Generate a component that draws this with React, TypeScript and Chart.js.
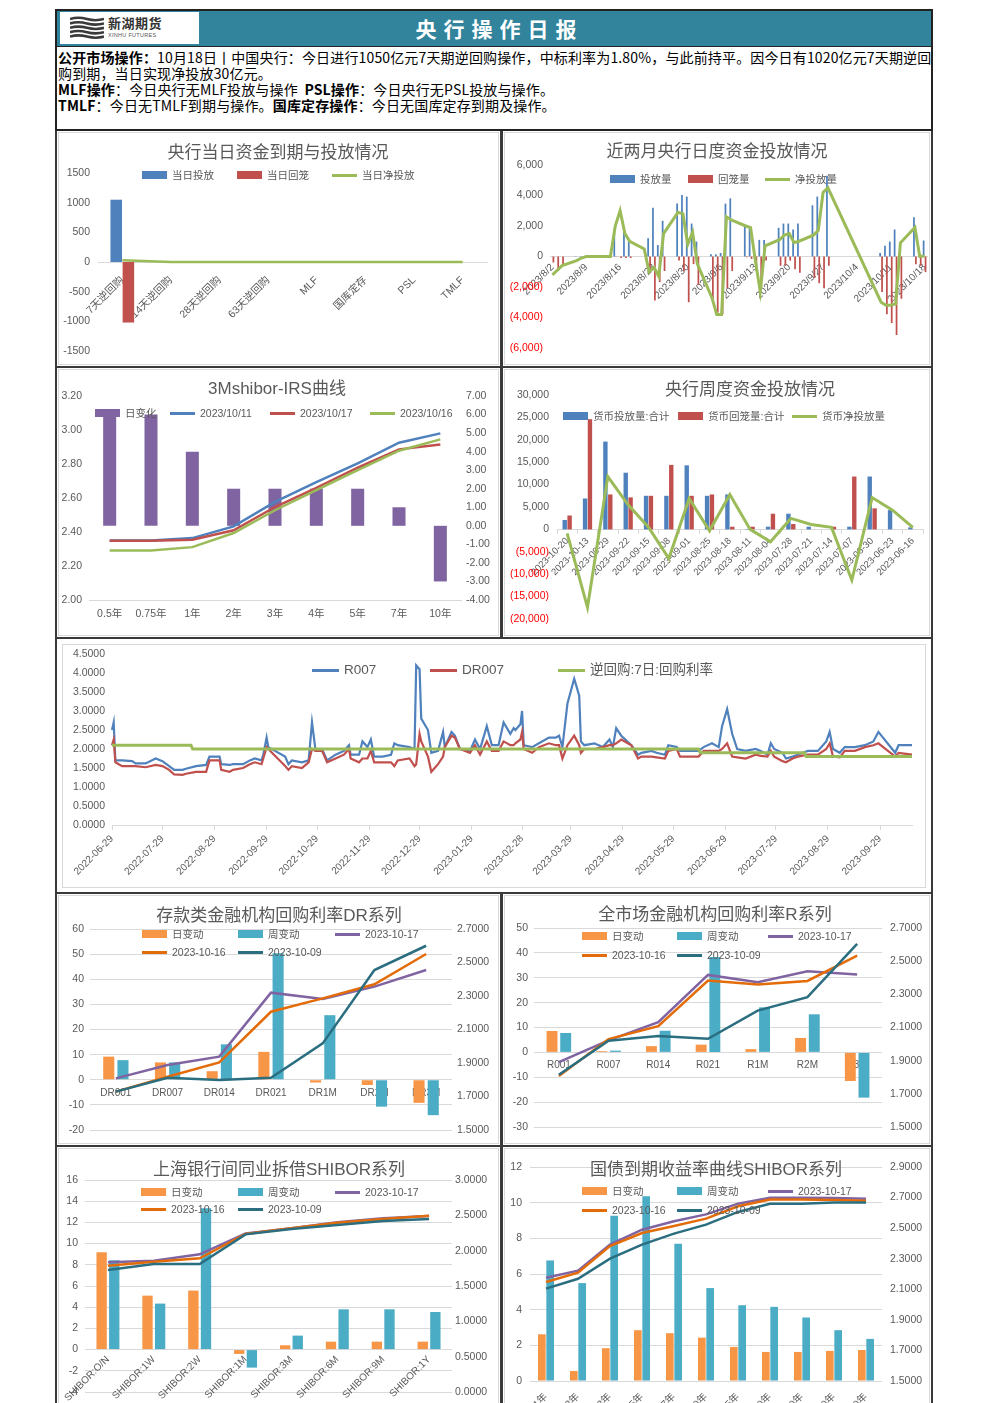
import React, { useEffect, useRef } from 'react';
import { Chart, registerables } from 'chart.js';

Chart.register(...registerables);

const LAT = "'Liberation Sans', 'Noto Sans CJK SC', sans-serif";
const CJK = "'Noto Sans CJK SC', 'Liberation Sans', sans-serif";
Chart.defaults.font.family = LAT;
Chart.defaults.color = '#595959';

const TXT = '#595959';
const GRID = '#d9d9d9';
const BLUE = '#4f81bd';
const RED = '#c0504d';
const GREEN = '#9bbb59';
const PURPLE = '#8064a2';
const ORANGE = '#f79646';
const TEAL = '#4bacc6';
const BROWN = '#e36c09';
const DTEAL = '#2b6e80';
const NEG = '#ff0000';

// ---------------- DATA ----------------
// 1. 央行当日资金到期与投放情况
const opsCategories = ['7天逆回购', '14天逆回购', '28天逆回购', '63天逆回购', 'MLF', '国库定存', 'PSL', 'TMLF'];
const opsInjection = [1050, 0, 0, 0, 0, 0, 0, 0];
const opsWithdrawal = [-1020, 0, 0, 0, 0, 0, 0, 0];
const opsNet = [30, 0, 0, 0, 0, 0, 0, 0];

// 2. 近两月央行日度资金投放情况 (business days)
const recentDates = [
  '2023-08-02', '2023-08-03', '2023-08-04', '2023-08-07', '2023-08-08', '2023-08-09', '2023-08-10', '2023-08-11',
  '2023-08-14', '2023-08-15', '2023-08-16', '2023-08-17', '2023-08-18', '2023-08-21', '2023-08-22', '2023-08-23',
  '2023-08-24', '2023-08-25', '2023-08-28', '2023-08-29', '2023-08-30', '2023-08-31', '2023-09-01', '2023-09-04',
  '2023-09-05', '2023-09-06', '2023-09-07', '2023-09-08', '2023-09-11', '2023-09-12', '2023-09-13', '2023-09-14',
  '2023-09-15', '2023-09-18', '2023-09-19', '2023-09-20', '2023-09-21', '2023-09-22', '2023-09-25', '2023-09-26',
  '2023-09-27', '2023-09-28', '2023-10-09', '2023-10-10', '2023-10-11', '2023-10-12', '2023-10-13', '2023-10-16',
  '2023-10-17', '2023-10-18',
];
const recentInjection = [
  0, 0, 0, 20, 20, 20, 20, 20,
  0, 1770, 0, 1770, 980, 0, 1200, 3200,
  750, 2340, 3470, 4040, 3930, 2160, 980, 140,
  140, 230, 3470, 3810, 2070, 1880, 0, 1090,
  1090, 1880, 2160, 2160, 1770, 2160, 3360, 3930,
  0, 5290, 230, 700, 980, 1770, 0, 2570,
  0, 1050,
];
const recentWithdrawal = [
  -390, -950, -610, 0, 0, -20, -20, -20,
  -20, -20, -100, -100, -100, 0, -1070, -2880,
  -1680, -950, -270, -950, -3000, -500, -1860, -2770,
  -3680, -3790, -2090, -950, -50, -160, -950, -2090,
  -270, -610, -610, -270, -840, -1070, -1410, -1750,
  -2090, -610, -2320, -3790, -4360, -5150, -2770, -500,
  -610, -1020,
];
const recentNet = [
  -1200, -900, -600, -270, -100, 0, 0, 0,
  0, 2000, 3000, 1500, 1000, 500, -1000, -700,
  -1300, 1500, 2900, 2800, 800, 1600, -500, -2700,
  -3800, -3800, 2600, 2400, 2000, 1900, -300, -2300,
  700, 1100, 1400, 1500, 900, 1000, 1400, 1700,
  4200, 4500, -3000, -3200, -3200, -3100, 900, 1900,
  0, 30,
];

// 3. 3Mshibor-IRS曲线
const irsTenors = ['0.5年', '0.75年', '1年', '2年', '3年', '4年', '5年', '7年', '10年'];
const irsChange = [6, 6, 4, 2, 2, 2, 2, 1, -3];
const irs1011 = [2.35, 2.35, 2.364, 2.433, 2.577, 2.693, 2.803, 2.925, 2.98];
const irs1017 = [2.348, 2.348, 2.354, 2.41, 2.547, 2.66, 2.778, 2.886, 2.915];
const irs1016 = [2.291, 2.291, 2.311, 2.394, 2.528, 2.646, 2.764, 2.878, 2.945];

// 4. 央行周度资金投放情况
const weekLabels = [
  '2023-10-20', '2023-10-13', '2023-09-29', '2023-09-22', '2023-09-15', '2023-09-08', '2023-09-01', '2023-08-25',
  '2023-08-18', '2023-08-11', '2023-08-04', '2023-07-28', '2023-07-21', '2023-07-14', '2023-07-07', '2023-06-30',
  '2023-06-23', '2023-06-16',
];
const weekInjection = [2100, 6900, 19600, 12650, 7500, 7500, 14300, 7500, 7800, 100, 600, 3500, 600, 0, 600, 11800, 4300, 450];
const weekWithdrawal = [3100, 24600, 7800, 7150, 7500, 14400, 7500, 7800, 600, 600, 3500, 1200, 0, 600, 11800, 4700, 0, 0];
const weekNet = [-900, -17400, 11800, 5500, 500, -6500, 6900, -300, 7800, 0, -2750, 2450, 1100, 450, -11300, 7100, 4300, 450];

// 5. R007 / DR007 / 逆回购7日
const rateDates = [
  '2022-06-29', '2022-06-30', '2022-07-01', '2022-07-05', '2022-07-11', '2022-07-13', '2022-07-19', '2022-07-25',
  '2022-07-29', '2022-08-02', '2022-08-05', '2022-08-10', '2022-08-12', '2022-08-18', '2022-08-24', '2022-08-26',
  '2022-09-01', '2022-09-02', '2022-09-07', '2022-09-09', '2022-09-15', '2022-09-19', '2022-09-22', '2022-09-26',
  '2022-09-27', '2022-09-29', '2022-09-30', '2022-10-10', '2022-10-12', '2022-10-14', '2022-10-20', '2022-10-24',
  '2022-10-26', '2022-10-28', '2022-11-01', '2022-11-04', '2022-11-09', '2022-11-14', '2022-11-17', '2022-11-18',
  '2022-11-23', '2022-11-25', '2022-11-28', '2022-11-30', '2022-12-02', '2022-12-07', '2022-12-12', '2022-12-14',
  '2022-12-16', '2022-12-23', '2022-12-26', '2022-12-27', '2022-12-29', '2022-12-30', '2023-01-03', '2023-01-05',
  '2023-01-09', '2023-01-12', '2023-01-13', '2023-01-17', '2023-01-19', '2023-01-22', '2023-01-28', '2023-01-31',
  '2023-02-03', '2023-02-07', '2023-02-10', '2023-02-14', '2023-02-17', '2023-02-21', '2023-02-23', '2023-02-24',
  '2023-02-27', '2023-02-28', '2023-03-01', '2023-03-06', '2023-03-10', '2023-03-16', '2023-03-20', '2023-03-22',
  '2023-03-24', '2023-03-27', '2023-03-31', '2023-04-03', '2023-04-04', '2023-04-06', '2023-04-12', '2023-04-17',
  '2023-04-21', '2023-04-23', '2023-04-25', '2023-04-28', '2023-05-04', '2023-05-08', '2023-05-10', '2023-05-16',
  '2023-05-19', '2023-05-24', '2023-05-26', '2023-05-31', '2023-06-02', '2023-06-09', '2023-06-13', '2023-06-16',
  '2023-06-21', '2023-06-25', '2023-06-27', '2023-06-30', '2023-07-03', '2023-07-06', '2023-07-11', '2023-07-17',
  '2023-07-20', '2023-07-24', '2023-07-26', '2023-07-28', '2023-08-02', '2023-08-04', '2023-08-08', '2023-08-11',
  '2023-08-17', '2023-08-23', '2023-08-28', '2023-08-30', '2023-09-01', '2023-09-05', '2023-09-08', '2023-09-14',
  '2023-09-20', '2023-09-25', '2023-09-28', '2023-10-08', '2023-10-10', '2023-10-18',
];
const r007 = [
  2.5, 2.7, 1.7, 1.7, 1.68, 1.62, 1.62, 1.75,
  1.68, 1.55, 1.45, 1.45, 1.48, 1.55, 1.58, 1.8,
  1.8, 1.6, 1.58, 1.6, 1.6, 1.7, 1.75, 1.7,
  1.85, 2.3, 2.05, 1.8, 1.6, 1.7, 1.65, 1.7,
  2.7, 2.0, 2.0, 1.7, 1.85, 1.95, 2.1, 1.85,
  1.85, 2.2, 2.05, 2.25, 1.8, 1.8, 1.85, 2.15,
  2.1, 2.05, 2.0, 4.2, 4.1, 2.8, 2.5, 1.9,
  1.95, 2.45, 2.05, 2.45, 2.35, 2.0, 1.95, 2.25,
  2.0, 2.6, 2.1, 2.1, 2.7, 2.4, 2.55, 2.5,
  2.65, 3.0, 2.1, 2.05, 2.15, 2.3, 2.3, 2.35,
  2.05, 3.2, 3.85, 3.4, 2.2, 2.1, 2.15, 2.05,
  2.25, 2.05, 2.55, 2.35, 2.1, 1.85, 1.9, 1.95,
  1.9, 1.85, 2.1, 2.05, 1.95, 1.95, 1.95, 2.05,
  2.15, 2.05, 2.6, 3.05, 2.4, 2.0, 1.95, 2.0,
  1.95, 1.85, 2.15, 2.0, 1.9, 1.75, 1.8, 1.85,
  1.95, 1.95, 2.2, 2.45, 2.0, 1.9, 2.05, 2.05,
  2.1, 2.2, 2.45, 1.9, 2.1, 2.1,
];
const dr007 = [
  2.1, 2.25, 1.65, 1.55, 1.55, 1.55, 1.52, 1.58,
  1.55, 1.45, 1.33, 1.32, 1.35, 1.4, 1.4, 1.7,
  1.7, 1.45, 1.4, 1.45, 1.5, 1.6, 1.65, 1.6,
  1.75, 2.05, 2.0, 1.55, 1.45, 1.55, 1.5, 1.65,
  2.0, 1.95, 1.95, 1.65, 1.75, 1.85, 2.0, 1.75,
  1.65, 1.75, 1.75, 1.95, 1.65, 1.65, 1.65, 1.55,
  1.7, 1.75, 1.55, 1.6, 2.4, 2.2, 1.8, 1.4,
  1.6, 1.8, 2.05, 2.35, 2.3, 2.0, 1.9, 2.1,
  1.85, 2.2, 1.95, 1.95, 2.2, 2.1, 2.1, 2.15,
  2.25, 2.45, 2.0, 1.9, 2.05, 2.15, 2.1, 2.1,
  1.75, 2.1, 2.35, 2.1, 1.9, 2.0, 2.0, 2.05,
  2.1, 2.1, 2.15, 2.25, 2.1, 1.75, 1.8, 1.8,
  1.78, 1.75, 1.95, 2.0, 1.8, 1.8, 1.8, 1.95,
  1.95, 1.95, 2.0, 2.15, 1.8, 1.78, 1.75, 1.85,
  1.82, 1.8, 1.95, 1.8, 1.68, 1.65, 1.75, 1.8,
  1.85, 1.85, 2.0, 2.15, 1.8, 1.78, 1.95, 1.95,
  2.05, 2.1, 2.15, 1.8, 1.9, 1.85,
];
const repoDates = ['2022-06-29', '2022-08-15', '2022-08-16', '2023-06-13', '2023-06-14', '2023-08-15', '2023-08-16', '2023-10-18'];
const repo7d = [2.1, 2.1, 2.0, 2.0, 1.9, 1.9, 1.8, 1.8];
const rateTickDates = [
  '2022-06-29', '2022-07-29', '2022-08-29', '2022-09-29', '2022-10-29', '2022-11-29', '2022-12-29', '2023-01-29',
  '2023-02-28', '2023-03-29', '2023-04-29', '2023-05-29', '2023-06-29', '2023-07-29', '2023-08-29', '2023-09-29',
];

// 6. 存款类金融机构回购利率DR系列
const drTenors = ['DR001', 'DR007', 'DR014', 'DR021', 'DR1M', 'DR2M', 'DR3M'];
const drDayChg = [9.2, 6.9, 3.4, 11.1, -1.1, -2.1, -9.2];
const drWeekChg = [7.8, 6.9, 14.1, 50.3, 25.7, -10.7, -14.1];
const dr1017 = [1.808, 1.888, 1.938, 2.32, 2.282, 2.356, 2.455];
const dr1016 = [1.729, 1.818, 1.904, 2.206, 2.286, 2.37, 2.551];
const dr1009 = [1.729, 1.812, 1.798, 1.812, 2.017, 2.455, 2.6];

// 7. 全市场金融机构回购利率R系列
const rTenors = ['R001', 'R007', 'R014', 'R021', 'R1M', 'R2M', 'R3M'];
const rDayChg = [8.6, 0.5, 2.5, 3.1, 1.3, 5.8, -11.5];
const rWeekChg = [7.8, 0.7, 8.7, 38.3, 18.1, 15.3, -18.2];
const r1017 = [1.891, 2.022, 2.132, 2.417, 2.373, 2.439, 2.419];
const r1016 = [1.807, 2.03, 2.108, 2.383, 2.359, 2.381, 2.533];
const r1009 = [1.815, 2.02, 2.048, 2.032, 2.202, 2.283, 2.604];

// 8. 上海银行间同业拆借SHIBOR系列
const shiborTenors = ['SHIBOR:O/N', 'SHIBOR:1W', 'SHIBOR:2W', 'SHIBOR:1M', 'SHIBOR:3M', 'SHIBOR:6M', 'SHIBOR:9M', 'SHIBOR:1Y'];
const shiborDayChg = [9.18, 5.09, 5.57, -0.41, 0.41, 0.75, 0.75, 0.75];
const shiborWeekChg = [8.43, 4.34, 13.33, -1.7, 1.32, 3.8, 3.8, 3.55];
const shibor1017 = [1.835, 1.858, 1.948, 2.245, 2.316, 2.401, 2.458, 2.491];
const shibor1016 = [1.788, 1.844, 1.892, 2.236, 2.316, 2.396, 2.448, 2.495];
const shibor1009 = [1.726, 1.811, 1.811, 2.231, 2.307, 2.363, 2.42, 2.448];

// 9. 国债到期收益率曲线
const cgbTenors = ['国债:1年', '国债:2年', '国债:3年', '国债:5年', '国债:7年', '国债:10年', '国债:15年', '国债:20年', '国债:30年', '国债:40年', '国债:50年'];
const cgbDayChg = [2.62, 0.56, 1.84, 2.85, 2.68, 2.43, 1.91, 1.63, 1.63, 1.69, 1.74];
const cgbWeekChg = [6.76, 5.49, 9.27, 10.36, 7.7, 5.21, 4.25, 4.16, 3.56, 2.85, 2.36];
const cgb1017 = [2.176, 2.222, 2.392, 2.49, 2.545, 2.59, 2.66, 2.699, 2.699, 2.697, 2.693];
const cgb1016 = [2.148, 2.209, 2.383, 2.468, 2.514, 2.562, 2.643, 2.688, 2.688, 2.684, 2.68];
const cgb1009 = [2.104, 2.169, 2.3, 2.392, 2.464, 2.523, 2.606, 2.66, 2.66, 2.667, 2.667];

// ---------------- HELPERS ----------------
type Geo = { L: number; T: number; W: number; H: number; x1: number; y1: number; x2: number; y2: number };
const G1: Geo = { L: 58, T: 133, W: 440, H: 230, x1: 98, y1: 173, x2: 487, y2: 351 };
const G2: Geo = { L: 504, T: 133, W: 426, H: 230, x1: 550, y1: 165, x2: 927, y2: 348 };
const G3: Geo = { L: 58, T: 370, W: 440, H: 264, x1: 89, y1: 396, x2: 461, y2: 600 };
const G4: Geo = { L: 504, T: 370, W: 426, H: 264, x1: 557, y1: 395, x2: 923, y2: 619 };
const G5: Geo = { L: 58, T: 641, W: 872, H: 248, x1: 112, y1: 654, x2: 912, y2: 825 };
const G6: Geo = { L: 58, T: 895, W: 440, H: 247, x1: 90, y1: 929, x2: 452, y2: 1130 };
const G7: Geo = { L: 504, T: 895, W: 426, H: 247, x1: 534, y1: 928, x2: 882, y2: 1127 };
const G8: Geo = { L: 58, T: 1148, W: 440, H: 255, x1: 85, y1: 1180, x2: 452, y2: 1392 };
const G9: Geo = { L: 504, T: 1148, W: 426, H: 255, x1: 530, y1: 1167, x2: 882, y2: 1381 };

const fitTo = (w: number | null, h: number | null) => (s: any) => {
  if (w !== null) s.width = w;
  if (h !== null) s.height = h;
  s.paddingLeft = 0;
  s.paddingRight = 0;
  s.paddingTop = 0;
  s.paddingBottom = 0;
};
const bottomH = (g: Geo) => g.T + g.H - g.y2;

function baseOptions(g: Geo, hasRight: boolean, bottomAxis = false) {
  return {
    responsive: false,
    animation: false,
    events: [],
    layout: {
      padding: {
        top: g.y1 - g.T,
        bottom: bottomAxis ? 0 : bottomH(g),
        left: 0,
        right: hasRight ? 0 : g.L + g.W - g.x2,
      },
    },
    plugins: { legend: { display: false }, title: { display: false }, tooltip: { enabled: false } },
  };
}

const fmtInt = (v: any) => String(v);
const fmt2 = (v: any) => Number(v).toFixed(2);
const fmt4 = (v: any) => Number(v).toFixed(4);
const fmtAcct = (v: any) => {
  const n = Number(v);
  const s = Math.abs(n).toLocaleString('en-US');
  return n < 0 ? `(${s})` : s;
};
const negColor = (ctx: any) => (ctx.tick && ctx.tick.value < 0 ? NEG : TXT);

function yScale(g: Geo, side: 'left' | 'right', min: number, max: number, step: number, fmt: any, pad: number, gridOn = false, color: any = TXT) {
  return {
    position: side,
    min,
    max,
    ticks: { stepSize: step, callback: fmt, padding: pad, font: { size: 10.5 }, color, crossAlign: 'near', autoSkip: false },
    grid: { display: gridOn, color: GRID, drawTicks: false, lineWidth: 1 },
    border: { display: false },
    afterFit: fitTo(side === 'left' ? g.x1 - g.L : g.L + g.W - g.x2, null),
  };
}

const line = (label: string, data: any[], color: string, width: number, order: number, axis = 'y') => ({
  type: 'line',
  label,
  data,
  yAxisID: axis,
  borderColor: color,
  backgroundColor: color,
  borderWidth: width,
  pointRadius: 0,
  tension: 0,
  spanGaps: true,
  order,
});
const bars = (label: string, data: any[], color: string, order: number, cat: number, bar: number, axis = 'y') => ({
  type: 'bar',
  label,
  data,
  yAxisID: axis,
  backgroundColor: color,
  borderWidth: 0,
  categoryPercentage: cat,
  barPercentage: bar,
  order,
});

const dayMs = 86400000;
const isoDay = (t: number) => new Date(t).toISOString().slice(0, 10);
const daysBetween = (first: string, last: string) => {
  const out: string[] = [];
  for (let t = Date.parse(first); t <= Date.parse(last); t += dayMs) out.push(isoDay(t));
  return out;
};
const placeOn = (days: string[], dates: string[], vals: number[]) => {
  const m = new Map(dates.map((d, i) => [d, vals[i]]));
  return days.map((d) => (m.has(d) ? m.get(d) : null));
};

const calendarDays = daysBetween(recentDates[0], recentDates[recentDates.length - 1]);
const slashDate = (s: string) => {
  const [y, m, d] = s.split('-');
  return `${y}/${+m}/${+d}`;
};
const rateDays = daysBetween(rateDates[0], rateDates[rateDates.length - 1]);
const rateTickSet = new Set(rateTickDates);

// ---------------- CHART CONFIGS ----------------
const build1 = () => ({
  type: 'bar',
  data: {
    labels: opsCategories,
    datasets: [
      line('当日净投放', opsNet, GREEN, 2.5, 0),
      bars('当日投放', opsInjection, BLUE, 1, 0.5, 0.95),
      bars('当日回笼', opsWithdrawal, RED, 1, 0.5, 0.95),
    ],
  },
  options: {
    ...baseOptions(G1, false),
    scales: {
      x: {
        position: { y: 0 },
        grid: { display: false, drawTicks: false },
        border: { display: true, color: GRID },
        ticks: { minRotation: 45, maxRotation: 45, autoSkip: false, padding: 12, font: { size: 10.5 } },
        afterFit: fitTo(null, null),
      },
      y: yScale(G1, 'left', -1500, 1500, 500, fmtInt, 8),
    },
  },
});

const build2 = () => ({
  type: 'bar',
  data: {
    labels: calendarDays,
    datasets: [
      line('净投放量', placeOn(calendarDays, recentDates, recentNet), GREEN, 3, 0),
      bars('投放量', placeOn(calendarDays, recentDates, recentInjection), BLUE, 1, 0.8, 0.9),
      bars('回笼量', placeOn(calendarDays, recentDates, recentWithdrawal), RED, 1, 0.8, 0.9),
    ],
  },
  options: {
    ...baseOptions(G2, false),
    scales: {
      x: {
        position: { y: 0 },
        grid: { display: false, drawTicks: false },
        border: { display: true, color: GRID },
        ticks: {
          minRotation: 45,
          maxRotation: 45,
          autoSkip: false,
          padding: 5,
          font: { size: 10 },
          callback: (_v: any, i: number) => (i % 7 === 0 ? slashDate(calendarDays[i]) : ''),
        },
        afterFit: fitTo(null, null),
      },
      y: yScale(G2, 'left', -6000, 6000, 2000, fmtAcct, 7, false, negColor),
    },
  },
});

const build3 = () => ({
  type: 'bar',
  data: {
    labels: irsTenors,
    datasets: [
      line('2023/10/16', irs1016, GREEN, 2.5, 0),
      line('2023/10/17', irs1017, RED, 2.5, 1),
      line('2023/10/11', irs1011, BLUE, 2.5, 2),
      bars('日变化', irsChange, PURPLE, 3, 0.35, 0.9, 'y2'),
    ],
  },
  options: {
    ...baseOptions(G3, true, true),
    scales: {
      x: {
        position: 'bottom',
        grid: { display: false, drawTicks: false },
        border: { display: true, color: GRID },
        ticks: { maxRotation: 0, autoSkip: false, padding: 8, font: { size: 10.5 } },
        afterFit: fitTo(null, bottomH(G3)),
      },
      y: yScale(G3, 'left', 2, 3.2, 0.2, fmt2, 7),
      y2: yScale(G3, 'right', -4, 7, 1, fmt2, 5),
    },
  },
});

const build4 = () => ({
  type: 'bar',
  data: {
    labels: weekLabels,
    datasets: [
      line('货币净投放量', weekNet, GREEN, 3, 0),
      bars('货币投放量:合计', weekInjection, BLUE, 1, 0.48, 0.9),
      bars('货币回笼量:合计', weekWithdrawal, RED, 1, 0.48, 0.9),
    ],
  },
  options: {
    ...baseOptions(G4, false),
    scales: {
      x: {
        position: { y: 0 },
        grid: { display: true, drawOnChartArea: false, drawTicks: true, tickLength: 4, color: GRID },
        border: { display: true, color: GRID },
        ticks: { minRotation: 45, maxRotation: 45, autoSkip: false, padding: 2, font: { size: 9.5 } },
        afterFit: fitTo(null, null),
      },
      y: yScale(G4, 'left', -20000, 30000, 5000, fmtAcct, 8, false, negColor),
    },
  },
});

const build5 = () => ({
  type: 'line',
  data: {
    labels: rateDays,
    datasets: [
      line('逆回购:7日:回购利率', placeOn(rateDays, repoDates, repo7d), GREEN, 3, 0),
      line('DR007', placeOn(rateDays, rateDates, dr007), RED, 2.2, 1),
      line('R007', placeOn(rateDays, rateDates, r007), BLUE, 2.2, 2),
    ],
  },
  options: {
    ...baseOptions(G5, false, true),
    scales: {
      x: {
        type: 'category',
        position: 'bottom',
        offset: false,
        grid: {
          display: true,
          offset: false,
          drawOnChartArea: false,
          drawTicks: true,
          tickLength: 5,
          color: (ctx: any) => (rateTickSet.has(rateDays[ctx.index]) ? GRID : 'rgba(0,0,0,0)'),
        },
        border: { display: true, color: GRID },
        ticks: {
          autoSkip: false,
          minRotation: 45,
          maxRotation: 45,
          padding: 3,
          font: { size: 10 },
          callback: (_v: any, i: number) => (rateTickSet.has(rateDays[i]) ? rateDays[i] : ''),
        },
        afterFit: fitTo(null, bottomH(G5)),
      },
      y: yScale(G5, 'left', 0, 4.5, 0.5, fmt4, 7),
    },
  },
});

function buildSeries(
  g: Geo,
  labels: string[],
  dayChg: number[],
  weekChg: number[],
  s1017: number[],
  s1016: number[],
  s1009: number[],
  yl: [number, number, number, number],
  yr: [number, number, number, number],
  xOpts: any,
  cat: number,
  bar: number,
  bottomAxis = false,
) {
  return {
    type: 'bar',
    data: {
      labels,
      datasets: [
        line('2023-10-09', s1009, DTEAL, 2.5, 0, 'y2'),
        line('2023-10-16', s1016, BROWN, 2.5, 1, 'y2'),
        line('2023-10-17', s1017, PURPLE, 2.5, 2, 'y2'),
        bars('日变动', dayChg, ORANGE, 3, cat, bar, 'y'),
        bars('周变动', weekChg, TEAL, 3, cat, bar, 'y'),
      ],
    },
    options: {
      ...baseOptions(g, true, bottomAxis),
      scales: {
        x: xOpts,
        y: yScale(g, 'left', yl[0], yl[1], yl[2], fmtInt, yl[3], true),
        y2: yScale(g, 'right', yr[0], yr[1], yr[2], fmt4, yr[3]),
      },
    },
  };
}

const flatX = {
  position: { y: 0 },
  grid: { display: false, drawTicks: false },
  border: { display: false },
  ticks: { maxRotation: 0, autoSkip: false, padding: 7, font: { size: 10 } },
  afterFit: fitTo(null, null),
};

const build6 = () => buildSeries(G6, drTenors, drDayChg, drWeekChg, dr1017, dr1016, dr1009, [-20, 60, 10, 6], [1.5, 2.7, 0.2, 5], flatX, 0.55, 0.78);
const build7 = () => buildSeries(G7, rTenors, rDayChg, rWeekChg, r1017, r1016, r1009, [-30, 50, 10, 6], [1.5, 2.7, 0.2, 8], flatX, 0.55, 0.8);
const build8 = () =>
  buildSeries(
    G8,
    shiborTenors,
    shiborDayChg,
    shiborWeekChg,
    shibor1017,
    shibor1016,
    shibor1009,
    [-4, 16, 2, 7],
    [0, 3, 0.5, 3],
    {
      position: { y: 0 },
      grid: { display: false, drawTicks: false },
      border: { display: false },
      ticks: { minRotation: 45, maxRotation: 45, autoSkip: false, padding: 4, font: { size: 10 } },
      afterFit: fitTo(null, null),
    },
    0.55,
    0.82,
  );
const build9 = () =>
  buildSeries(
    G9,
    cgbTenors,
    cgbDayChg,
    cgbWeekChg,
    cgb1017,
    cgb1016,
    cgb1009,
    [0, 12, 2, 8],
    [1.5, 2.9, 0.2, 8],
    {
      position: 'bottom',
      grid: { display: false, drawTicks: false },
      border: { display: false },
      ticks: { minRotation: 45, maxRotation: 45, autoSkip: false, padding: 10, font: { size: 10 } },
      afterFit: fitTo(null, bottomH(G9)),
    },
    0.52,
    0.92,
    true,
  );

// ---------------- COMPONENTS ----------------
function ChartBox({ geo, build }: { geo: Geo; build: () => any }) {
  const ref = useRef<HTMLCanvasElement | null>(null);
  useEffect(() => {
    if (!ref.current) return;
    const chart = new Chart(ref.current, build());
    return () => chart.destroy();
  }, []);
  return (
    <canvas
      ref={ref}
      width={geo.W}
      height={geo.H}
      style={{ position: 'absolute', left: geo.L, top: geo.T, width: geo.W, height: geo.H, display: 'block' }}
    />
  );
}

type LegItem = { mark: 'rect' | 'line'; color: string; text: string; x: number; y: number };
function Legend({ items, size = 10.5, markW = 25 }: { items: LegItem[]; size?: number; markW?: number }) {
  return (
    <>
      {items.map((it, i) => (
        <div
          key={i}
          style={{ position: 'absolute', left: it.x, top: it.y - 9, height: 18, display: 'flex', alignItems: 'center', whiteSpace: 'nowrap' }}
        >
          <div style={{ width: markW, height: it.mark === 'rect' ? 8 : 3, background: it.color, marginRight: 5, flex: 'none' }} />
          <span style={{ fontFamily: LAT, fontSize: size, color: TXT, lineHeight: '18px' }}>{it.text}</span>
        </div>
      ))}
    </>
  );
}

function Title({ text, cx, cy, size = 17 }: { text: string; cx: number; cy: number; size?: number }) {
  return (
    <div
      style={{
        position: 'absolute',
        left: cx - 220,
        width: 440,
        top: cy - 13,
        height: 26,
        lineHeight: '26px',
        textAlign: 'center',
        fontFamily: LAT,
        fontSize: size,
        color: TXT,
        whiteSpace: 'nowrap',
      }}
    >
      {text}
    </div>
  );
}

const seriesLegend = (x: number[], y1: number, y2: number): LegItem[] => [
  { mark: 'rect', color: ORANGE, text: '日变动', x: x[0], y: y1 },
  { mark: 'rect', color: TEAL, text: '周变动', x: x[1], y: y1 },
  { mark: 'line', color: PURPLE, text: '2023-10-17', x: x[2], y: y1 },
  { mark: 'line', color: BROWN, text: '2023-10-16', x: x[0], y: y2 },
  { mark: 'line', color: DTEAL, text: '2023-10-09', x: x[1], y: y2 },
];

function Frame() {
  const dark = '#3a3a3a';
  const boxes: number[][] = [
    [55, 129, 447, 239],
    [501, 129, 432, 239],
    [55, 366, 447, 273],
    [501, 366, 432, 273],
    [55, 637, 878, 257],
    [55, 892, 447, 255],
    [501, 892, 432, 255],
    [55, 1145, 447, 280],
    [501, 1145, 432, 280],
  ];
  return (
    <>
      {boxes.map((b, i) => (
        <React.Fragment key={i}>
          <div
            style={{ position: 'absolute', left: b[0], top: b[1], width: b[2], height: b[3], border: `2px solid ${dark}`, boxSizing: 'border-box' }}
          />
          <div
            style={{
              position: 'absolute',
              left: b[0] + (i === 4 ? 7 : 3),
              top: b[1] + (i === 4 ? 7 : 3),
              width: b[2] - (i === 4 ? 14 : 6),
              height: b[3] - (i === 4 ? 13 : 6),
              border: `1px solid ${GRID}`,
              boxSizing: 'border-box',
            }}
          />
        </React.Fragment>
      ))}
      <div style={{ position: 'absolute', left: 55, top: 9, width: 878, height: 122, border: '2px solid #222', boxSizing: 'border-box' }} />
    </>
  );
}

function Header() {
  return (
    <>
      <div style={{ position: 'absolute', left: 57, top: 11, width: 874, height: 35, background: '#31849b' }} />
      <div style={{ position: 'absolute', left: 57, top: 46, width: 874, height: 1, background: '#222' }} />
      <div style={{ position: 'absolute', left: 60, top: 12, width: 139, height: 32, background: '#fff' }}>
        <svg width="34" height="24" style={{ position: 'absolute', left: 10, top: 4 }}>
          {[0, 1, 2, 3, 4].map((i) => (
            <path
              key={i}
              d={`M0 ${3 + i * 4.4} Q 8 ${0.6 + i * 4.4} 17 ${3 + i * 4.4} T 34 ${3 + i * 4.4}`}
              stroke="#3a3a3a"
              strokeWidth="2.6"
              fill="none"
            />
          ))}
        </svg>
        <div style={{ position: 'absolute', left: 48, top: 2, fontSize: 13, lineHeight: '18px', fontWeight: 700, fontFamily: CJK, color: '#333', letterSpacing: 0.5 }}>
          新湖期货
        </div>
        <div style={{ position: 'absolute', left: 48, top: 20, fontSize: 5.5, lineHeight: '7px', fontFamily: LAT, color: '#555', letterSpacing: 0.3 }}>
          XINHU FUTURES
        </div>
      </div>
      <div
        style={{
          position: 'absolute',
          left: 300,
          width: 392,
          top: 12,
          height: 32,
          lineHeight: '32px',
          textAlign: 'center',
          color: '#fff',
          fontFamily: CJK,
          fontWeight: 700,
          fontSize: 21,
          letterSpacing: 7,
          textIndent: 7,
        }}
      >
        央行操作日报
      </div>
      <div
        style={{
          position: 'absolute',
          left: 58,
          top: 49,
          width: 874,
          fontFamily: CJK,
          fontSize: 14,
          lineHeight: '16px',
          color: '#000',
          whiteSpace: 'nowrap',
          letterSpacing: 0.15,
          overflow: 'hidden',
        }}
      >
        <div>
          <b>公开市场操作：</b>10月18日丨中国央行：今日进行1050亿元7天期逆回购操作，中标利率为1.80%，与此前持平。因今日有1020亿元7天期逆回
        </div>
        <div>购到期，当日实现净投放30亿元。</div>
        <div>
          <b>MLF操作</b>：今日央行无MLF投放与操作{'\u00a0\u00a0'}<b>PSL操作</b>：今日央行无PSL投放与操作。
        </div>
        <div>
          <b>TMLF</b>：今日无TMLF到期与操作。<b>国库定存操作</b>：今日无国库定存到期及操作。
        </div>
      </div>
    </>
  );
}

export default function App() {
  return (
    <div style={{ position: 'absolute', left: 0, top: 0, width: 992, height: 1403, overflow: 'hidden', background: '#fff' }}>
      <Frame />
      <Header />

      <ChartBox geo={G1} build={build1} />
      <Title text="央行当日资金到期与投放情况" cx={278} cy={153} />
      <Legend
        items={[
          { mark: 'rect', color: BLUE, text: '当日投放', x: 142, y: 175 },
          { mark: 'rect', color: RED, text: '当日回笼', x: 237, y: 175 },
          { mark: 'line', color: GREEN, text: '当日净投放', x: 332, y: 175 },
        ]}
      />

      <ChartBox geo={G2} build={build2} />
      <Title text="近两月央行日度资金投放情况" cx={717} cy={152} />
      <Legend
        items={[
          { mark: 'rect', color: BLUE, text: '投放量', x: 610, y: 179 },
          { mark: 'rect', color: RED, text: '回笼量', x: 688, y: 179 },
          { mark: 'line', color: GREEN, text: '净投放量', x: 765, y: 179 },
        ]}
      />

      <ChartBox geo={G3} build={build3} />
      <Title text="3Mshibor-IRS曲线" cx={277} cy={389} />
      <Legend
        items={[
          { mark: 'rect', color: PURPLE, text: '日变化', x: 95, y: 413 },
          { mark: 'line', color: BLUE, text: '2023/10/11', x: 170, y: 413 },
          { mark: 'line', color: RED, text: '2023/10/17', x: 270, y: 413 },
          { mark: 'line', color: GREEN, text: '2023/10/16', x: 370, y: 413 },
        ]}
      />

      <ChartBox geo={G4} build={build4} />
      <Title text="央行周度资金投放情况" cx={750} cy={390} />
      <Legend
        items={[
          { mark: 'rect', color: BLUE, text: '货币投放量:合计', x: 563, y: 416 },
          { mark: 'rect', color: RED, text: '货币回笼量:合计', x: 678, y: 416 },
          { mark: 'line', color: GREEN, text: '货币净投放量', x: 792, y: 416 },
        ]}
      />

      <ChartBox geo={G5} build={build5} />
      <Legend
        size={13.5}
        markW={27}
        items={[
          { mark: 'line', color: BLUE, text: 'R007', x: 312, y: 670 },
          { mark: 'line', color: RED, text: 'DR007', x: 430, y: 670 },
          { mark: 'line', color: GREEN, text: '逆回购:7日:回购利率', x: 558, y: 670 },
        ]}
      />

      <ChartBox geo={G6} build={build6} />
      <Title text="存款类金融机构回购利率DR系列" cx={279} cy={916} />
      <Legend items={seriesLegend([142, 238, 335], 934, 952)} />

      <ChartBox geo={G7} build={build7} />
      <Title text="全市场金融机构回购利率R系列" cx={715} cy={915} />
      <Legend items={seriesLegend([582, 677, 768], 936, 955)} />

      <ChartBox geo={G8} build={build8} />
      <Title text="上海银行间同业拆借SHIBOR系列" cx={279} cy={1170} />
      <Legend items={seriesLegend([141, 238, 335], 1192, 1209)} />

      <ChartBox geo={G9} build={build9} />
      <Title text="国债到期收益率曲线SHIBOR系列" cx={716} cy={1170} />
      <Legend items={seriesLegend([582, 677, 768], 1191, 1210)} />
    </div>
  );
}
